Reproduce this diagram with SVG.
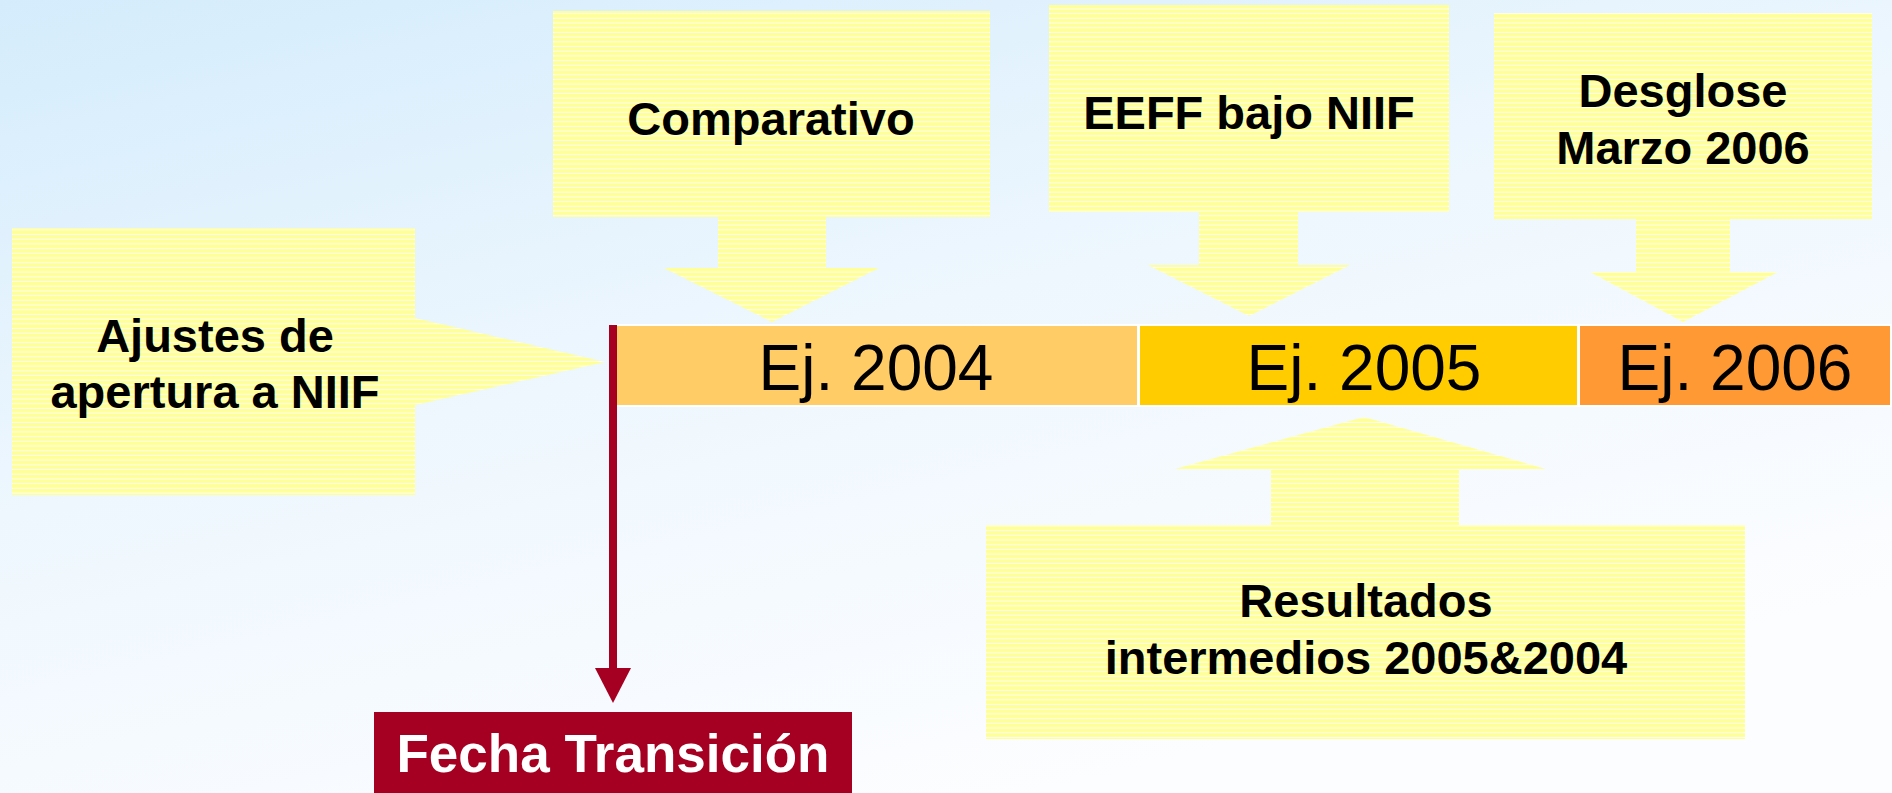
<svg xmlns="http://www.w3.org/2000/svg" width="1892" height="793" viewBox="0 0 1892 793">
  <defs>
    <linearGradient id="bg" x1="0" y1="0" x2="0.55" y2="1">
      <stop offset="0" stop-color="#d4ecfc"/>
      <stop offset="0.5" stop-color="#eef7fe"/>
      <stop offset="1" stop-color="#fcfdff"/>
    </linearGradient>
    <pattern id="stripes" patternUnits="userSpaceOnUse" width="20" height="4.7">
      <rect width="20" height="4.7" fill="#ffff99"/>
      <rect y="3.7" width="20" height="1" fill="#ffffff" fill-opacity="0.85"/>
    </pattern>
    <style>
      .callout { fill: url(#stripes); }
      .lbl { font-family: "Liberation Sans", Arial, sans-serif; font-weight: bold; font-size: 47px; fill: #000; text-anchor: middle; }
      .year { font-family: "Liberation Sans", Arial, sans-serif; font-size: 64px; fill: #000; text-anchor: middle; }
      .seg { stroke: #ffffff; stroke-width: 2; }
      .fecha { font-family: "Liberation Sans", Arial, sans-serif; font-weight: bold; font-size: 53px; fill: #ffffff; text-anchor: middle; }
    </style>
  </defs>

  <rect width="1892" height="793" fill="url(#bg)"/>

  <g id="timeline">
    <rect class="seg" x="613" y="325" width="525" height="81" fill="#ffcc66"/>
    <rect class="seg" x="1139" y="325" width="439" height="81" fill="#ffcc00"/>
    <rect class="seg" x="1579" y="325" width="312" height="81" fill="#ff9933"/>
    <text class="year" x="876" y="390">Ej. 2004</text>
    <text class="year" x="1364" y="390">Ej. 2005</text>
    <text class="year" x="1735" y="390">Ej. 2006</text>
  </g>

  <g id="ajustes">
    <path class="callout" d="M12,228 H415 V318 L605,362 L415,405 V495 H12 Z"/>
    <text class="lbl" x="215" y="352">Ajustes de</text>
    <text class="lbl" x="215" y="408">apertura a NIIF</text>
  </g>

  <g id="comparativo">
    <path class="callout" d="M553,11 H990 V217 H826 V268 H879 L772,322 L664,268 H718 V217 H553 Z"/>
    <text class="lbl" x="771" y="135">Comparativo</text>
  </g>

  <g id="eeff">
    <path class="callout" d="M1049,5 H1449 V212 H1298 V265 H1350 L1249,316 L1148,265 H1199 V212 H1049 Z"/>
    <text class="lbl" x="1249" y="129">EEFF bajo NIIF</text>
  </g>

  <g id="desglose">
    <path class="callout" d="M1494,13 H1872 V219 H1730 V272 H1778 L1683,322 L1590,272 H1636 V219 H1494 Z"/>
    <text class="lbl" x="1683" y="107">Desglose</text>
    <text class="lbl" x="1683" y="164">Marzo 2006</text>
  </g>

  <g id="resultados">
    <path class="callout" d="M986,525 H1271 V469 H1175 L1364,417 L1546,469 H1459 V525 H1745 V739 H986 Z"/>
    <text class="lbl" x="1366" y="617">Resultados</text>
    <text class="lbl" x="1366" y="674">intermedios 2005&amp;2004</text>
  </g>

  <g id="fecha">
    <rect x="374" y="712" width="478" height="81" fill="#a50021"/>
    <text class="fecha" x="613" y="772">Fecha Transición</text>
  </g>

  <g id="connectors">
    <line x1="613" y1="325" x2="613" y2="672" stroke="#a50021" stroke-width="8"/>
    <path d="M595,668 L631,668 L613,703 Z" fill="#a50021"/>
  </g>
</svg>
